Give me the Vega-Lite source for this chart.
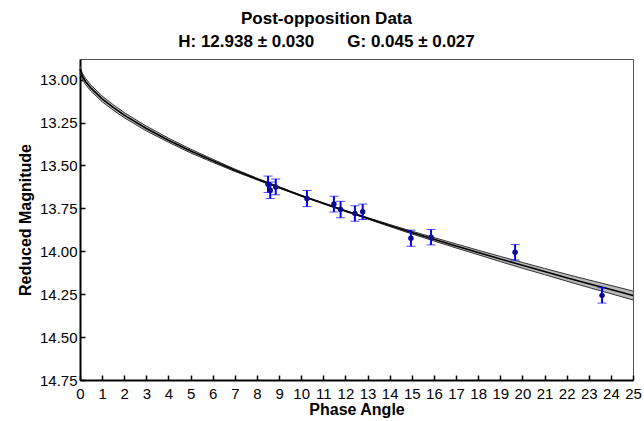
{
  "$schema": "https://vega.github.io/schema/vega-lite/v6.json",
  "width": 553,
  "height": 321,
  "autosize": "none",
  "padding": {"left": 80, "top": 59, "right": 11, "bottom": 41},
  "background": "white",
  "config": {
    "font": "Liberation Sans",
    "view": {"stroke": "#555", "strokeWidth": 1},
    "axis": {"grid": false, "domainColor": "black", "domainWidth": 2, "tickColor": "black", "tickWidth": 1.5, "labelColor": "black", "titleColor": "black", "labelFontSize": 15, "titleFontSize": 16, "titleFontWeight": "bold", "labelFont": "Liberation Sans", "titleFont": "Liberation Sans", "labelOverlap": false}
  },
  "title": {
    "text": ["Post-opposition Data", "H: 12.938 ± 0.030\u00a0\u00a0\u00a0\u00a0\u00a0\u00a0\u00a0G: 0.045 ± 0.027"],
    "fontSize": 17,
    "fontWeight": "bold",
    "font": "Liberation Sans",
    "color": "black",
    "anchor": "middle",
    "dx": -30,
    "lineHeight": 23,
    "offset": 8
  },
  "datasets": {
    "curve": [
      {"angle": 0, "mag": 12.938, "lo": 12.920, "hi": 12.956},
      {"angle": 0.1, "mag": 12.979, "lo": 12.961, "hi": 12.997},
      {"angle": 0.25, "mag": 13.011, "lo": 12.993, "hi": 13.029},
      {"angle": 0.5, "mag": 13.050, "lo": 13.032, "hi": 13.068},
      {"angle": 1, "mag": 13.112, "lo": 13.095, "hi": 13.129},
      {"angle": 1.5, "mag": 13.162, "lo": 13.146, "hi": 13.178},
      {"angle": 2, "mag": 13.207, "lo": 13.192, "hi": 13.222},
      {"angle": 3, "mag": 13.285, "lo": 13.271, "hi": 13.299},
      {"angle": 4, "mag": 13.353, "lo": 13.341, "hi": 13.365},
      {"angle": 5, "mag": 13.416, "lo": 13.405, "hi": 13.427},
      {"angle": 6, "mag": 13.473, "lo": 13.464, "hi": 13.482},
      {"angle": 7, "mag": 13.528, "lo": 13.521, "hi": 13.535},
      {"angle": 8, "mag": 13.579, "lo": 13.574, "hi": 13.584},
      {"angle": 9, "mag": 13.628, "lo": 13.624, "hi": 13.632},
      {"angle": 10, "mag": 13.676, "lo": 13.673, "hi": 13.679},
      {"angle": 11, "mag": 13.721, "lo": 13.718, "hi": 13.724},
      {"angle": 12, "mag": 13.765, "lo": 13.762, "hi": 13.768},
      {"angle": 13, "mag": 13.808, "lo": 13.804, "hi": 13.812},
      {"angle": 14, "mag": 13.850, "lo": 13.844, "hi": 13.856},
      {"angle": 15, "mag": 13.891, "lo": 13.883, "hi": 13.899},
      {"angle": 16, "mag": 13.930, "lo": 13.920, "hi": 13.940},
      {"angle": 17, "mag": 13.969, "lo": 13.957, "hi": 13.981},
      {"angle": 18, "mag": 14.007, "lo": 13.994, "hi": 14.020},
      {"angle": 19, "mag": 14.045, "lo": 14.030, "hi": 14.060},
      {"angle": 20, "mag": 14.082, "lo": 14.065, "hi": 14.099},
      {"angle": 21, "mag": 14.118, "lo": 14.100, "hi": 14.136},
      {"angle": 22, "mag": 14.154, "lo": 14.134, "hi": 14.174},
      {"angle": 23, "mag": 14.189, "lo": 14.167, "hi": 14.211},
      {"angle": 24, "mag": 14.223, "lo": 14.199, "hi": 14.247},
      {"angle": 25, "mag": 14.258, "lo": 14.232, "hi": 14.284}
    ],
    "obs": [
      {"angle": 8.5, "mag": 13.610, "err": 0.048},
      {"angle": 8.6, "mag": 13.645, "err": 0.048},
      {"angle": 8.85, "mag": 13.625, "err": 0.046},
      {"angle": 10.26, "mag": 13.693, "err": 0.047},
      {"angle": 11.48, "mag": 13.725, "err": 0.046},
      {"angle": 11.78, "mag": 13.757, "err": 0.048},
      {"angle": 12.43, "mag": 13.780, "err": 0.045},
      {"angle": 12.78, "mag": 13.770, "err": 0.045},
      {"angle": 14.96, "mag": 13.924, "err": 0.047},
      {"angle": 15.87, "mag": 13.918, "err": 0.045},
      {"angle": 19.67, "mag": 14.006, "err": 0.045},
      {"angle": 23.60, "mag": 14.257, "err": 0.045}
    ]
  },
  "layer": [
    {
      "data": {"name": "curve"},
      "mark": {"type": "area", "color": "#b8b8b8", "opacity": 1},
      "encoding": {
        "x": {"field": "angle", "type": "quantitative", "title": "Phase Angle", "scale": {"domain": [0, 25], "nice": false, "zero": false}, "axis": {"title": "Phase Angle", "values": [0,1,2,3,4,5,6,7,8,9,10,11,12,13,14,15,16,17,18,19,20,21,22,23,24,25], "format": "d", "tickSize": -5, "labelPadding": 11, "titlePadding": 0, "labelFlush": false}},
        "y": {"field": "lo", "type": "quantitative", "title": "Reduced Magnitude", "scale": {"domain": [12.88, 14.75], "reverse": true, "nice": false, "zero": false}, "axis": {"title": "Reduced Magnitude", "values": [13, 13.25, 13.5, 13.75, 14, 14.25, 14.5, 14.75], "format": ".2f", "tickSize": -5, "labelPadding": 8, "titlePadding": 6}},
        "y2": {"field": "hi"}
      }
    },
    {
      "data": {"name": "curve"},
      "mark": {"type": "line", "color": "#333", "strokeWidth": 1},
      "encoding": {
        "x": {"field": "angle", "type": "quantitative", "title": "Phase Angle", "scale": {"domain": [0, 25], "nice": false, "zero": false}, "axis": {"title": "Phase Angle", "values": [0,1,2,3,4,5,6,7,8,9,10,11,12,13,14,15,16,17,18,19,20,21,22,23,24,25], "format": "d", "tickSize": -5, "labelPadding": 11, "titlePadding": 0, "labelFlush": false}},
        "y": {"field": "lo", "type": "quantitative", "title": "Reduced Magnitude", "scale": {"domain": [12.88, 14.75], "reverse": true, "nice": false, "zero": false}, "axis": {"title": "Reduced Magnitude", "values": [13, 13.25, 13.5, 13.75, 14, 14.25, 14.5, 14.75], "format": ".2f", "tickSize": -5, "labelPadding": 8, "titlePadding": 6}}
      }
    },
    {
      "data": {"name": "curve"},
      "mark": {"type": "line", "color": "#333", "strokeWidth": 1},
      "encoding": {
        "x": {"field": "angle", "type": "quantitative", "title": "Phase Angle", "scale": {"domain": [0, 25], "nice": false, "zero": false}, "axis": {"title": "Phase Angle", "values": [0,1,2,3,4,5,6,7,8,9,10,11,12,13,14,15,16,17,18,19,20,21,22,23,24,25], "format": "d", "tickSize": -5, "labelPadding": 11, "titlePadding": 0, "labelFlush": false}},
        "y": {"field": "hi", "type": "quantitative", "title": "Reduced Magnitude", "scale": {"domain": [12.88, 14.75], "reverse": true, "nice": false, "zero": false}, "axis": {"title": "Reduced Magnitude", "values": [13, 13.25, 13.5, 13.75, 14, 14.25, 14.5, 14.75], "format": ".2f", "tickSize": -5, "labelPadding": 8, "titlePadding": 6}}
      }
    },
    {
      "data": {"name": "curve"},
      "mark": {"type": "line", "color": "black", "strokeWidth": 1.6},
      "encoding": {
        "x": {"field": "angle", "type": "quantitative", "title": "Phase Angle", "scale": {"domain": [0, 25], "nice": false, "zero": false}, "axis": {"title": "Phase Angle", "values": [0,1,2,3,4,5,6,7,8,9,10,11,12,13,14,15,16,17,18,19,20,21,22,23,24,25], "format": "d", "tickSize": -5, "labelPadding": 11, "titlePadding": 0, "labelFlush": false}},
        "y": {"field": "mag", "type": "quantitative", "title": "Reduced Magnitude", "scale": {"domain": [12.88, 14.75], "reverse": true, "nice": false, "zero": false}, "axis": {"title": "Reduced Magnitude", "values": [13, 13.25, 13.5, 13.75, 14, 14.25, 14.5, 14.75], "format": ".2f", "tickSize": -5, "labelPadding": 8, "titlePadding": 6}}
      }
    },
    {
      "data": {"name": "obs"},
      "mark": {"type": "errorbar", "ticks": {"size": 9, "color": "#0000ff", "strokeWidth": 2}, "rule": {"color": "#0000ff", "strokeWidth": 2}},
      "encoding": {
        "x": {"field": "angle", "type": "quantitative", "title": "Phase Angle", "scale": {"domain": [0, 25], "nice": false, "zero": false}, "axis": {"title": "Phase Angle", "values": [0,1,2,3,4,5,6,7,8,9,10,11,12,13,14,15,16,17,18,19,20,21,22,23,24,25], "format": "d", "tickSize": -5, "labelPadding": 11, "titlePadding": 0, "labelFlush": false}},
        "y": {"field": "mag", "type": "quantitative", "title": "Reduced Magnitude", "scale": {"domain": [12.88, 14.75], "reverse": true, "nice": false, "zero": false}, "axis": {"title": "Reduced Magnitude", "values": [13, 13.25, 13.5, 13.75, 14, 14.25, 14.5, 14.75], "format": ".2f", "tickSize": -5, "labelPadding": 8, "titlePadding": 6}},
        "yError": {"field": "err"}
      }
    },
    {
      "data": {"name": "obs"},
      "mark": {"type": "circle", "color": "#0a0a90", "opacity": 1, "size": 30},
      "encoding": {
        "x": {"field": "angle", "type": "quantitative", "title": "Phase Angle", "scale": {"domain": [0, 25], "nice": false, "zero": false}, "axis": {"title": "Phase Angle", "values": [0,1,2,3,4,5,6,7,8,9,10,11,12,13,14,15,16,17,18,19,20,21,22,23,24,25], "format": "d", "tickSize": -5, "labelPadding": 11, "titlePadding": 0, "labelFlush": false}},
        "y": {"field": "mag", "type": "quantitative", "title": "Reduced Magnitude", "scale": {"domain": [12.88, 14.75], "reverse": true, "nice": false, "zero": false}, "axis": {"title": "Reduced Magnitude", "values": [13, 13.25, 13.5, 13.75, 14, 14.25, 14.5, 14.75], "format": ".2f", "tickSize": -5, "labelPadding": 8, "titlePadding": 6}}
      }
    }
  ]
}
